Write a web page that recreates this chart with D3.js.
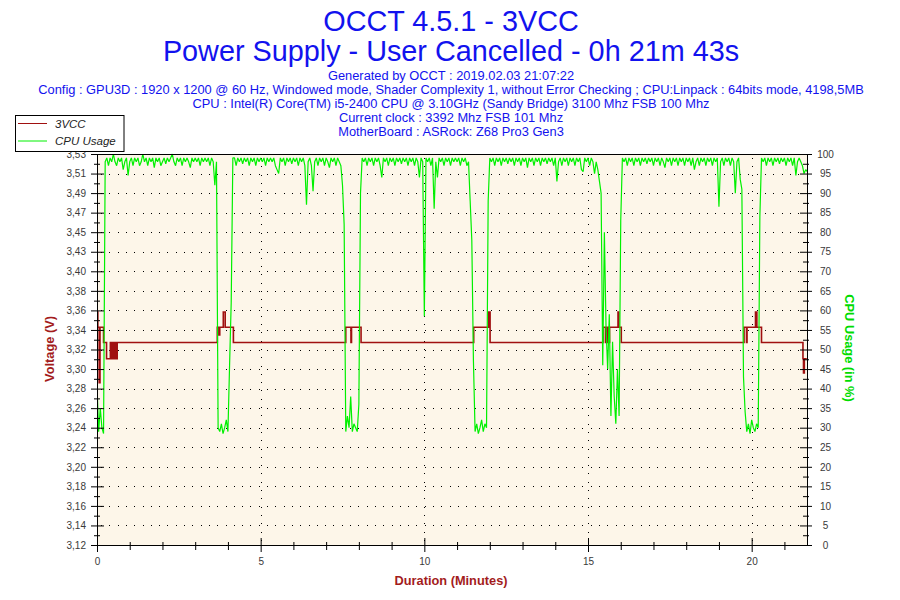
<!DOCTYPE html>
<html>
<head>
<meta charset="utf-8">
<script src="https://cdn.jsdelivr.net/npm/d3@7"></script>
<style>
body { margin: 0; background: #fff; }
svg { display: block; }
</style>
</head>
<body>
<div id="chart"></div>
<script>
// ---- chart texts ----
const titleLines = ["OCCT 4.5.1 - 3VCC", "Power Supply - User Cancelled - 0h 21m 43s"];
const infoLines = [
    "Generated by OCCT : 2019.02.03 21:07:22",
    "Config : GPU3D : 1920 x 1200 @ 60 Hz, Windowed mode, Shader Complexity 1, without Error Checking ; CPU:Linpack : 64bits mode, 4198,5MB",
    "CPU : Intel(R) Core(TM) i5-2400 CPU @ 3.10GHz (Sandy Bridge) 3100 Mhz FSB 100 Mhz",
    "Current clock : 3392 Mhz FSB 101 Mhz",
    "MotherBoard : ASRock: Z68 Pro3 Gen3"
];
const seriesNames = ["3VCC", "CPU Usage"];

// ---- axes ----
const durationMin = 21.69;
const xTickLabels = [0, 5, 10, 15, 20];
const xMinorTicks = [1, 2, 3, 4, 6, 7, 8, 9, 11, 12, 13, 14, 16, 17, 18, 19, 21];
const voltLabels = ["3,12", "3,14", "3,16", "3,18", "3,20", "3,22", "3,24", "3,26", "3,28", "3,30",
    "3,32", "3,34", "3,36", "3,38", "3,40", "3,43", "3,45", "3,47", "3,49", "3,51", "3,53"];
const voltMin = 3.1177, voltMax = 3.5277;
const cpuTicks = [0, 5, 10, 15, 20, 25, 30, 35, 40, 45, 50, 55, 60, 65, 70, 75, 80, 85, 90, 95, 100];
const xGrid = [5, 10, 15, 20];

// ---- CPU usage (%), one sample every 3 s, one row per minute ----
const cpuStep = 3;
const cpuUsage = [
    41, 29, 35, 30, 28.5, 98, 99, 97, 99, 98, 100, 98, 97, 99, 98, 99, 96, 98, 99, 94.5,
    98, 99, 97, 99, 98, 99, 97, 98, 100, 98, 99, 97, 99, 98, 99, 96.5, 99, 98, 99, 97,
    98, 99, 97.5, 99, 98, 99, 100, 98, 97, 99, 98, 99, 97, 99, 98, 99, 98, 96.5, 99, 98,
    99, 98, 99, 97, 99, 98, 99, 98, 99, 97, 99, 98, 92, 98, 30, 29, 31, 28.5, 30, 32,
    29, 46, 62, 99, 99, 97, 99, 98, 99, 97.5, 99, 98, 99, 97, 99, 98, 99, 97, 99, 98,
    99, 98, 99, 97, 99, 98, 99, 98, 99, 97, 96, 95, 99, 98, 99, 97, 99, 98, 99, 97.5,
    99, 98, 99, 97, 99, 98, 99, 97, 87, 98, 99, 97, 90.5, 98, 99, 97, 99, 98, 99, 97,
    99, 98, 96.5, 99, 98, 99, 97, 99, 98, 97, 92, 82, 29, 33, 30, 38, 29, 31, 30, 29,
    36, 90, 99, 98, 99, 97, 99, 98, 99, 97, 99, 98, 99, 97, 94, 99, 98, 99, 97, 99,
    98, 99, 97, 99, 98, 99, 97.5, 99, 98, 99, 97, 99, 98, 99, 97, 99, 98, 94, 99, 98,
    58.5, 99, 98, 99, 97, 99, 86, 98, 94, 99, 98, 99, 97, 99, 98, 99, 97, 99, 98, 99,
    98, 99, 97, 99, 98, 99, 97, 98, 88, 78, 47, 29, 31, 28.5, 30, 32, 29, 31, 30, 88,
    99, 98, 99, 97, 99, 98, 99, 97, 99, 98, 99, 97.5, 99, 98, 99, 97, 99, 98, 99, 97,
    99, 98, 99, 96.5, 99, 98, 99, 97, 99, 98, 99, 97, 99, 98, 99, 97.5, 99, 98, 99, 97,
    99, 93, 98, 99, 97, 99, 98, 99, 97, 99, 98, 99, 97, 99, 98, 99, 96, 95.5, 99, 98,
    99, 97, 99, 98, 95, 98, 96, 93, 90, 46, 80, 56, 45, 59, 33, 52, 38, 31, 45, 33,
    83, 99, 98, 99, 97, 99, 98, 99, 97, 99, 98, 99, 97, 99, 98, 99, 97.5, 99, 98, 99,
    97, 99, 98, 99, 97, 99, 98, 96.5, 99, 98, 99, 97, 99, 98, 99, 97, 99, 98, 99, 97,
    99, 98, 99, 97, 99, 96, 98, 99, 97, 99, 98, 99, 97, 99, 98, 99, 97, 99, 98, 99,
    86.5, 98, 99, 97, 99, 98, 99, 97, 99, 98, 90, 98, 99, 93.5, 91, 43, 34, 29, 31, 28.5,
    32, 30, 29, 31, 30, 84, 99, 98, 99, 97, 99, 98, 99, 97, 99, 98, 99, 97.5, 99, 98,
    99, 97, 99, 98, 99, 97, 99, 94.5, 98, 99, 98, 97, 95, 96, 95.5
];

// ---- 3VCC (V): [second, value] at each change of reading ----
const voltChanges = [
    [0, 3.362], [1.5, 3.346], [4, 3.288], [5.5, 3.346], [12, 3.330], [17.5, 3.313],
    [24.5, 3.330], [25, 3.313], [26.5, 3.330], [27, 3.313], [28.5, 3.330], [29, 3.313],
    [31, 3.330], [31.5, 3.313], [33, 3.330], [33.5, 3.313], [35, 3.330], [35.5, 3.313], [37, 3.330],
    [220.5, 3.346], [223.5, 3.338], [225, 3.346], [231.5, 3.362], [235, 3.346], [250, 3.330],
    [456, 3.346], [465.5, 3.330], [466.5, 3.346], [484, 3.330],
    [690.5, 3.346], [718, 3.362], [720.5, 3.330],
    [927.5, 3.346], [932, 3.330], [933, 3.346], [935, 3.330], [936, 3.346], [938.5, 3.330],
    [939.5, 3.346], [955, 3.362], [956.5, 3.346], [961, 3.330],
    [1186, 3.346], [1190.5, 3.330], [1191.5, 3.346], [1207, 3.362], [1209.5, 3.346], [1218, 3.330],
    [1294, 3.313], [1295, 3.298], [1296.5, 3.313], [1301, 3.313]
];

// ---- layout ----
const W = 900, H = 600;
const plot = { left: 97, right: 807, top: 154, bottom: 545 };
const FONT = "'Liberation Sans', Arial, sans-serif";
const voltColor = "#a01010", cpuColor = "#00f000";
const redTitle = "#a31c1c", blueText = "#1212ee", tickText = "#3a3a3a";

var svg = d3.select("#chart").append("svg")
    .attr("width", W).attr("height", H)
    .style("font-family", FONT);

let x = d3.scaleLinear().domain([0, durationMin]).range([plot.left, plot.right]);
let yCpu = d3.scaleLinear().domain([0, 100]).range([plot.bottom, plot.top]);
let yVolt = d3.scaleLinear().domain([voltMin, voltMax]).range([plot.bottom, plot.top]);

var voltStep = (voltMax - voltMin) / (voltLabels.length - 1);
var voltTicks = voltLabels.map((l, i) => voltMin + i * voltStep);
var voltMinor = voltTicks.slice(1).map(v => v - voltStep / 2);
var cpuMinor = cpuTicks.slice(1).map(v => v - 2.5);

// titles
svg.selectAll("text.title")
    .data(titleLines)
    .join("text")
    .attr("class", "title")
    .attr("x", 451)
    .attr("y", (d, i) => 31 + i * 30)
    .attr("text-anchor", "middle")
    .attr("fill", blueText)
    .style("font-size", "28.8px")
    .text(d => d);

svg.selectAll("text.info")
    .data(infoLines)
    .join("text")
    .attr("class", "info")
    .attr("x", 451)
    .attr("y", (d, i) => 79.5 + i * 14.1)
    .attr("text-anchor", "middle")
    .attr("fill", blueText)
    .style("font-size", "12.85px")
    .text(d => d);

// plot background
svg.append("rect")
    .attr("x", plot.left).attr("y", plot.top)
    .attr("width", plot.right - plot.left).attr("height", plot.bottom - plot.top)
    .attr("fill", "#fdf6e9");

// dotted grid
var grid = svg.append("g")
    .attr("stroke", "#000")
    .attr("stroke-width", 1)
    .attr("stroke-dasharray", "1,7.3")
    .attr("shape-rendering", "crispEdges");
grid.selectAll("line.h")
    .data(cpuTicks.filter(v => v > 0 && v < 100))
    .join("line")
    .attr("class", "h")
    .attr("x1", plot.left + 4).attr("x2", plot.right)
    .attr("y1", d => Math.round(yCpu(d)) + 0.5)
    .attr("y2", d => Math.round(yCpu(d)) + 0.5);
grid.selectAll("line.v")
    .data(xGrid)
    .join("line")
    .attr("class", "v")
    .attr("y1", plot.top + 4).attr("y2", plot.bottom)
    .attr("x1", d => Math.round(x(d)) + 0.5)
    .attr("x2", d => Math.round(x(d)) + 0.5);

// series
svg.append("clipPath").attr("id", "plotclip")
    .append("rect")
    .attr("x", plot.left).attr("y", plot.top - 1)
    .attr("width", plot.right - plot.left).attr("height", plot.bottom - plot.top + 1);

var series = svg.append("g").attr("clip-path", "url(#plotclip)");

let voltLine = d3.line()
    .x(d => x(d[0] / 60))
    .y(d => yVolt(d[1]))
    .curve(d3.curveStepAfter);
let cpuLine = d3.line()
    .x((d, i) => x(i * cpuStep / 60))
    .y(d => yCpu(d));

series.append("path")
    .datum(voltChanges)
    .attr("d", voltLine)
    .attr("fill", "none")
    .attr("stroke", voltColor)
    .attr("stroke-width", 1.6);

series.append("path")
    .datum(cpuUsage)
    .attr("d", cpuLine)
    .attr("fill", "none")
    .attr("stroke", cpuColor)
    .attr("stroke-width", 1.2)
    .attr("stroke-linejoin", "bevel");

// frame top
svg.append("line")
    .attr("x1", plot.left).attr("x2", plot.right + 0.5)
    .attr("y1", plot.top + 0.5).attr("y2", plot.top + 0.5)
    .attr("stroke", "#000");

function styleAxis(g) {
    g.attr("font-family", FONT).attr("font-size", 10);
    g.selectAll(".domain").attr("stroke", "#000");
    g.selectAll(".tick line").attr("stroke", "#000");
    g.selectAll(".tick text").attr("fill", tickText);
}

// left axis (voltage)
var gLeft = svg.append("g")
    .attr("transform", `translate(${plot.left},0)`)
    .call(d3.axisLeft(yVolt).tickValues(voltTicks)
        .tickFormat((d, i) => voltLabels[i])
        .tickSizeInner(6).tickSizeOuter(0).tickPadding(5));
gLeft.selectAll(".tick line").attr("x1", 7);
styleAxis(gLeft);

var gLeftMinor = svg.append("g")
    .attr("transform", `translate(${plot.left},0)`)
    .call(d3.axisLeft(yVolt).tickValues(voltMinor).tickFormat("").tickSize(3).tickSizeOuter(0));
gLeftMinor.select(".domain").remove();
gLeftMinor.selectAll(".tick line").attr("x1", 3);
styleAxis(gLeftMinor);

// right axis (cpu)
var gRight = svg.append("g")
    .attr("transform", `translate(${plot.right},0)`)
    .call(d3.axisRight(yCpu).tickValues(cpuTicks)
        .tickSizeInner(5).tickSizeOuter(0).tickPadding(8));
gRight.selectAll(".tick line").attr("x1", -7);
gRight.selectAll(".tick text").attr("x", 18.5).attr("text-anchor", "middle");
styleAxis(gRight);

var gRightMinor = svg.append("g")
    .attr("transform", `translate(${plot.right},0)`)
    .call(d3.axisRight(yCpu).tickValues(cpuMinor).tickFormat("").tickSize(2).tickSizeOuter(0));
gRightMinor.select(".domain").remove();
gRightMinor.selectAll(".tick line").attr("x1", -4);
styleAxis(gRightMinor);

// bottom axis (minutes)
var gBottom = svg.append("g")
    .attr("transform", `translate(0,${plot.bottom})`)
    .call(d3.axisBottom(x).tickValues(xTickLabels)
        .tickSizeInner(7).tickSizeOuter(0).tickPadding(6));
gBottom.selectAll(".tick line").attr("y1", -7);
styleAxis(gBottom);

var gBottomMinor = svg.append("g")
    .attr("transform", `translate(0,${plot.bottom})`)
    .call(d3.axisBottom(x).tickValues(xMinorTicks).tickFormat("").tickSize(5).tickSizeOuter(0));
gBottomMinor.select(".domain").remove();
gBottomMinor.selectAll(".tick line").attr("y1", -3);
styleAxis(gBottomMinor);

// axis titles
svg.append("text")
    .attr("transform", "translate(54,349) rotate(-90)")
    .attr("text-anchor", "middle")
    .attr("fill", redTitle)
    .style("font-size", "12.8px").style("font-weight", "bold")
    .text("Voltage (V)");

svg.append("text")
    .attr("transform", "translate(845,348) rotate(90)")
    .attr("text-anchor", "middle")
    .attr("fill", "#00dc00")
    .style("font-size", "12.8px").style("font-weight", "bold")
    .text("CPU Usage (in %)");

svg.append("text")
    .attr("x", 451).attr("y", 584.5)
    .attr("text-anchor", "middle")
    .attr("fill", redTitle)
    .style("font-size", "12.8px").style("font-weight", "bold")
    .text("Duration (Minutes)");

// legend
var legend = svg.append("g");
legend.append("rect")
    .attr("x", 15.5).attr("y", 115.5)
    .attr("width", 108.5).attr("height", 36)
    .attr("fill", "#fff").attr("stroke", "#000");
var items = legend.selectAll("g.item")
    .data(seriesNames)
    .join("g")
    .attr("class", "item")
    .attr("transform", (d, i) => `translate(0,${123.5 + i * 17.5})`);
items.append("line")
    .attr("x1", 18).attr("x2", 47)
    .attr("stroke", (d, i) => i == 0 ? voltColor : cpuColor)
    .attr("stroke-width", 1);
items.append("text")
    .attr("x", 55).attr("y", 4)
    .attr("fill", "#222")
    .style("font-size", "11.5px").style("font-style", "italic")
    .text(d => d);
</script>
</body>
</html>
